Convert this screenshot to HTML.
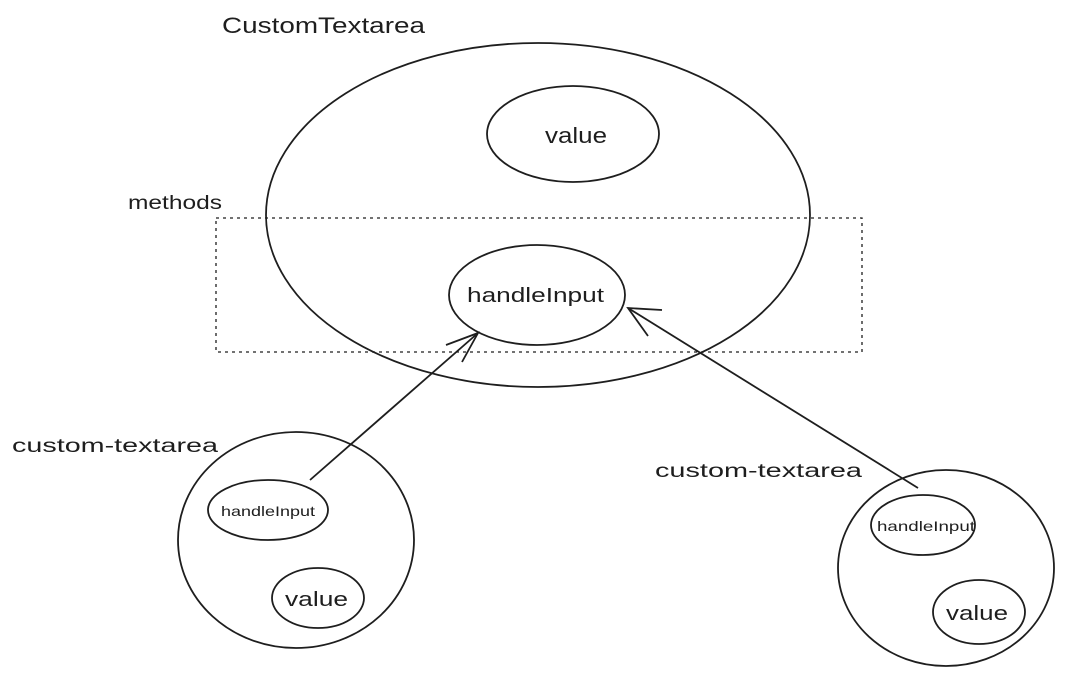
<!DOCTYPE html>
<html><head><meta charset="utf-8"><style>
html,body{margin:0;padding:0;background:#fff;width:1080px;height:675px;overflow:hidden}
svg text{font-family:"Liberation Sans",sans-serif;fill:#1e1e1e}
</style></head><body>
<svg width="1080" height="675" viewBox="0 0 1080 675" xmlns="http://www.w3.org/2000/svg">
<g fill="none" stroke="#1e1e1e" stroke-width="1.8">
<ellipse cx="538" cy="215" rx="272" ry="172"/>
<ellipse cx="573" cy="134" rx="86" ry="48"/>
<ellipse cx="537" cy="295" rx="88" ry="50"/>
<rect x="216" y="218" width="646" height="134" stroke-dasharray="3,4" stroke-width="1.3"/>
<ellipse cx="296" cy="540" rx="118" ry="108"/>
<ellipse cx="268" cy="510" rx="60" ry="30"/>
<ellipse cx="318" cy="598" rx="46" ry="30"/>
<ellipse cx="946" cy="568" rx="108" ry="98"/>
<ellipse cx="923" cy="525" rx="52" ry="30"/>
<ellipse cx="979" cy="612" rx="46" ry="32"/>
<line x1="310" y1="480" x2="478" y2="333"/>
<polyline points="446,345 478,333 462,362"/>
<line x1="918" y1="488" x2="628" y2="308"/>
<polyline points="662,310 628,308 648,336"/>
</g>
<text x="222" y="33" font-size="22" textLength="203" lengthAdjust="spacingAndGlyphs">CustomTextarea</text>
<text x="545" y="143" font-size="22" textLength="62" lengthAdjust="spacingAndGlyphs">value</text>
<text x="467" y="302" font-size="20" textLength="137" lengthAdjust="spacingAndGlyphs">handleInput</text>
<text x="128" y="209" font-size="19" textLength="94" lengthAdjust="spacingAndGlyphs">methods</text>
<text x="12" y="452" font-size="19" textLength="206" lengthAdjust="spacingAndGlyphs">custom-textarea</text>
<text x="655" y="477" font-size="19" textLength="207" lengthAdjust="spacingAndGlyphs">custom-textarea</text>
<text x="221" y="516" font-size="14" textLength="94" lengthAdjust="spacingAndGlyphs">handleInput</text>
<text x="285" y="606" font-size="20" textLength="63" lengthAdjust="spacingAndGlyphs">value</text>
<text x="877" y="531" font-size="14" textLength="98" lengthAdjust="spacingAndGlyphs">handleInput</text>
<text x="946" y="620" font-size="20" textLength="62" lengthAdjust="spacingAndGlyphs">value</text>
</svg>
</body></html>
